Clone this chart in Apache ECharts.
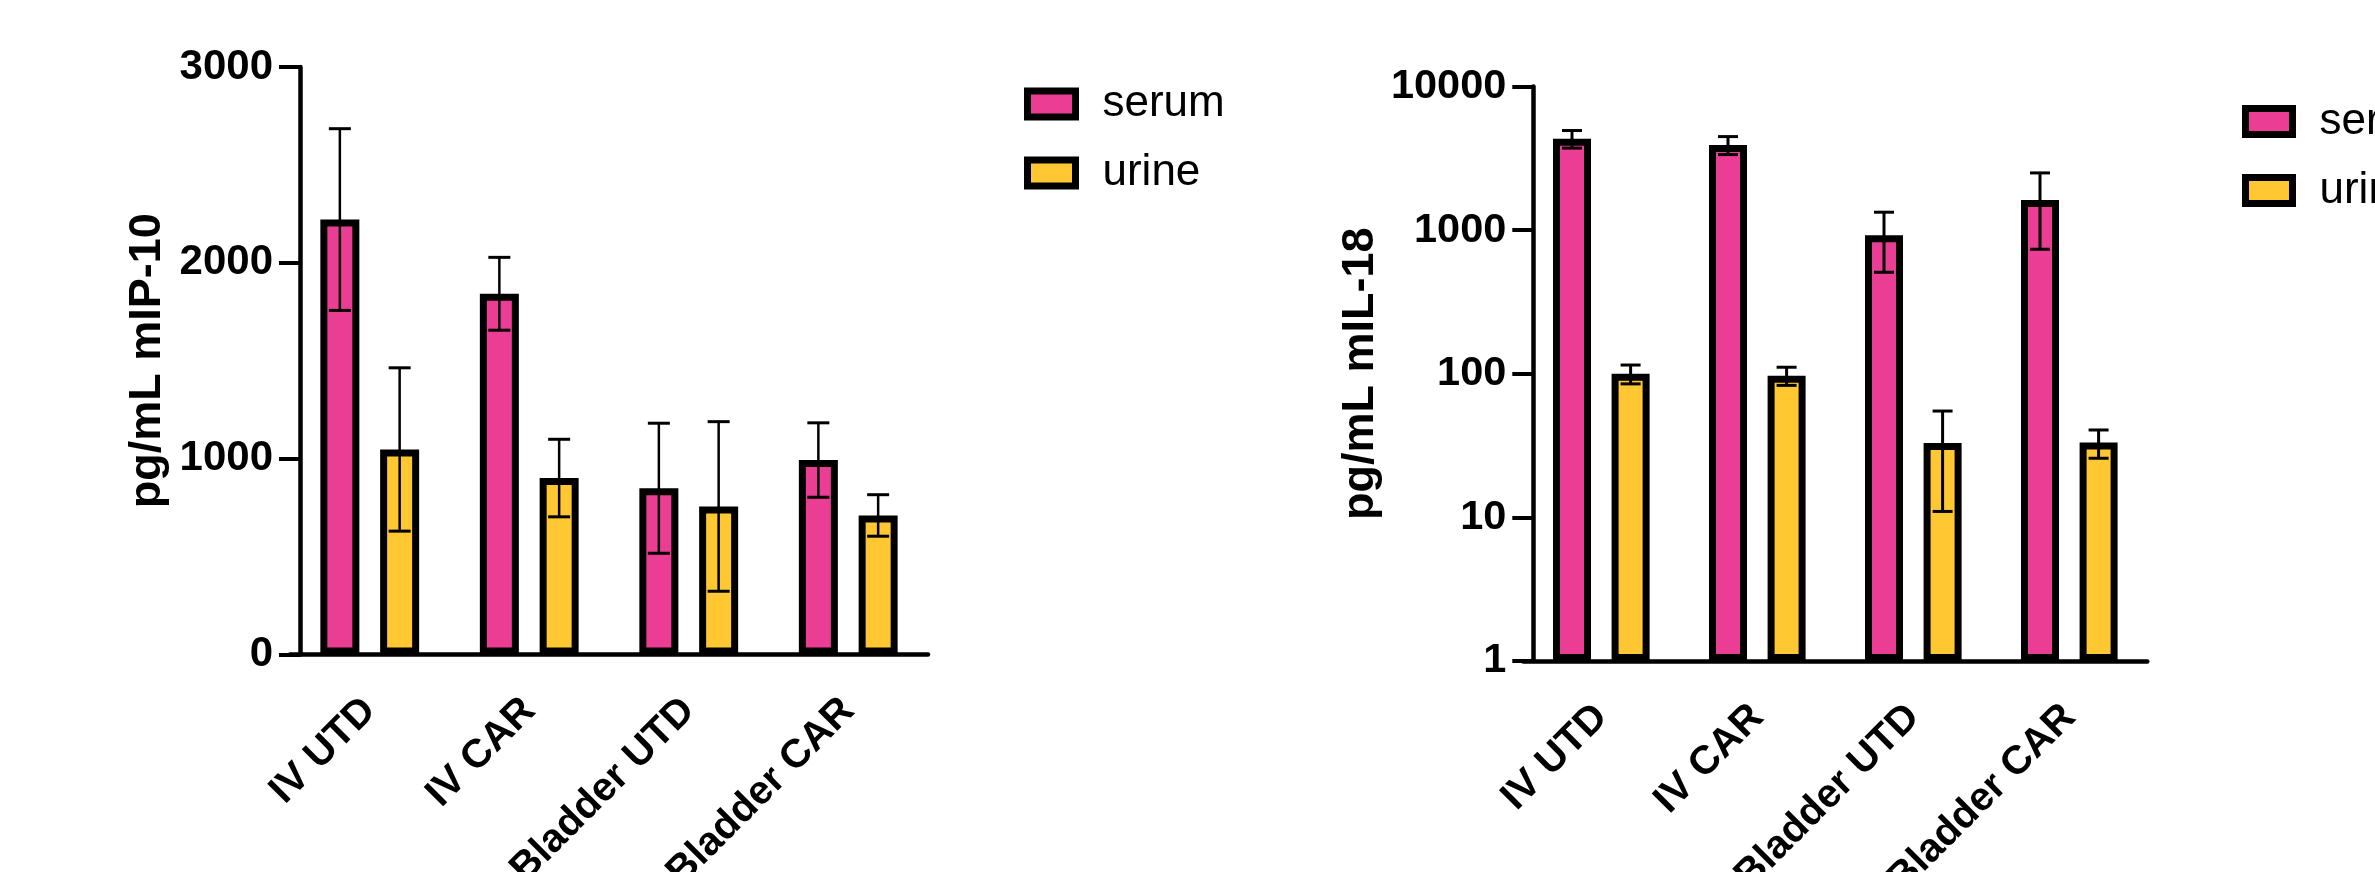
<!DOCTYPE html>
<html>
<head>
<meta charset="utf-8">
<script src="https://cdn.jsdelivr.net/npm/echarts@6/dist/echarts.min.js"></script>
<style>
html,body{margin:0;padding:0;background:#fff;}
#chart{width:2375px;height:872px;}
</style>
</head>
<body>
<div id="chart"></div>
<script>
const categories = ['IV UTD', 'IV CAR', 'Bladder UTD', 'Bladder CAR'];
const seriesNames = ['serum', 'urine'];
// Left panel: mIP-10 (pg/mL), mean and SD
const mip10Serum = [2221, 1842, 849, 993];
const mip10SerumSD = [464, 186, 332, 190];
const mip10Urine = [1047, 901, 756, 710];
const mip10UrineSD = [417, 198, 433, 106];
// Right panel: mIL-18 (pg/mL), mean and SD
const il18Serum = [4332, 3918, 921, 1619];
const il18SerumSD = [608, 561, 412, 883];
const il18Urine = [100, 97, 33, 33.2];
const il18UrineSD = [15, 14, 22, 7.4];
const mip10Ticks = [0, 1000, 2000, 3000];
const il18Ticks = [1, 10, 100, 1000, 10000];

const PINK = '#EC3D95';
const YELLOW = '#FFC833';
const FONT = 'Liberation Sans, Arial, sans-serif';

const BW1 = 39, GAP1 = 0.533;
const BW2 = 38, GAP2 = 0.542;

function errRender(sign, bw, gap, half, stemW) {
  return function (params, api) {
    const i = api.value(0), m = api.value(1), s = api.value(2);
    const off = sign * bw * (1 + gap) / 2;
    const top = api.coord([i, m + s]);
    const bot = api.coord([i, m - s]);
    const x = top[0] + off;
    const st = {stroke: '#000', lineWidth: 3};
    return {
      type: 'group',
      children: [
        {type: 'line', shape: {x1: x, y1: top[1], x2: x, y2: bot[1]}, style: {stroke: '#000', lineWidth: stemW}},
        {type: 'line', shape: {x1: x - half, y1: top[1], x2: x + half, y2: top[1]}, style: st},
        {type: 'line', shape: {x1: x - half, y1: bot[1], x2: x + half, y2: bot[1]}, style: st}
      ]
    };
  };
}

function toErr(means, sds) {
  return means.map((m, i) => [i, m, sds[i]]);
}

const plain = (v) => String(Math.round(v));

const catAxis = (gi) => ({
  type: 'category', gridIndex: gi, data: categories,
  axisLine: {lineStyle: {color: '#000', width: 4.5}},
  axisTick: {alignWithLabel: true, length: 21, lineStyle: {color: '#000', width: 3.5}},
  axisLabel: {rotate: 45, margin: 50, color: '#000', fontSize: 40, fontWeight: 'bold', fontFamily: FONT, interval: 0}
});

const legendBase = {
  data: seriesNames, orient: 'vertical', padding: 0,
  itemHeight: 26, itemGap: 25, icon: 'rect',
  itemStyle: {borderColor: '#000', borderWidth: 7},
  textStyle: {fontSize: 44, fontFamily: FONT, color: '#000', lineHeight: 44, padding: [0, 0, 0, 22]}
};

const chart = echarts.init(document.getElementById('chart'), null, {renderer: 'canvas'});
chart.setOption({
  animation: false,
  backgroundColor: '#fff',
  grid: [
    {left: 290, top: 67, width: 638, height: 587.5, containLabel: false, outerBoundsMode: 'none'},
    {left: 1523.3, top: 86.5, width: 624, height: 574.5, containLabel: false, outerBoundsMode: 'none'}
  ],
  legend: [
    Object.assign({}, legendBase, {left: 1024, top: 82, itemWidth: 48}),
    Object.assign({}, legendBase, {left: 2242, top: 99.5, itemWidth: 47})
  ],
  xAxis: [catAxis(0), catAxis(1)],
  yAxis: [
    {
      type: 'value', gridIndex: 0, min: mip10Ticks[0], max: mip10Ticks[mip10Ticks.length - 1], interval: 1000,
      offset: -10,
      axisLine: {show: true, lineStyle: {color: '#000', width: 4.5}},
      axisTick: {show: true, length: 21, lineStyle: {color: '#000', width: 4}},
      splitLine: {show: false},
      axisLabel: {margin: 27, color: '#000', fontSize: 42, fontWeight: 'bold', fontFamily: FONT, formatter: plain, padding: [7, 0, 0, 0]},
      name: 'pg/mL mIP-10', nameLocation: 'middle', nameGap: 130,
      nameTextStyle: {fontSize: 45, fontWeight: 'bold', color: '#000', fontFamily: FONT}
    },
    {
      type: 'log', logBase: 10, gridIndex: 1, min: il18Ticks[0], max: il18Ticks[il18Ticks.length - 1],
      offset: -10,
      axisLine: {show: true, lineStyle: {color: '#000', width: 4.5}},
      axisTick: {show: true, length: 21, lineStyle: {color: '#000', width: 4}},
      minorTick: {show: false},
      splitLine: {show: false},
      axisLabel: {margin: 27, color: '#000', fontSize: 41.5, fontWeight: 'bold', fontFamily: FONT, formatter: plain, padding: [7, 0, 0, 0]},
      name: 'pg/mL mIL-18', nameLocation: 'middle', nameGap: 150,
      nameTextStyle: {fontSize: 45, fontWeight: 'bold', color: '#000', fontFamily: FONT}
    }
  ],
  series: [
    {name: 'serum', type: 'bar', xAxisIndex: 0, yAxisIndex: 0, data: mip10Serum, barWidth: BW1, barGap: (GAP1 * 100) + '%',
      itemStyle: {color: PINK, borderColor: '#000', borderWidth: 7}},
    {name: 'urine', type: 'bar', xAxisIndex: 0, yAxisIndex: 0, data: mip10Urine, barWidth: BW1, barGap: (GAP1 * 100) + '%',
      itemStyle: {color: YELLOW, borderColor: '#000', borderWidth: 7}},
    {name: 'serum', type: 'bar', xAxisIndex: 1, yAxisIndex: 1, data: il18Serum, barWidth: BW2, barGap: (GAP2 * 100) + '%',
      itemStyle: {color: PINK, borderColor: '#000', borderWidth: 7}},
    {name: 'urine', type: 'bar', xAxisIndex: 1, yAxisIndex: 1, data: il18Urine, barWidth: BW2, barGap: (GAP2 * 100) + '%',
      itemStyle: {color: YELLOW, borderColor: '#000', borderWidth: 7}},
    {name: 'serum SD 1', type: 'custom', xAxisIndex: 0, yAxisIndex: 0, z: 5, data: toErr(mip10Serum, mip10SerumSD),
      encode: {x: 0, y: 1}, renderItem: errRender(-1, BW1, GAP1, 11, 2.5)},
    {name: 'urine SD 1', type: 'custom', xAxisIndex: 0, yAxisIndex: 0, z: 5, data: toErr(mip10Urine, mip10UrineSD),
      encode: {x: 0, y: 1}, renderItem: errRender(1, BW1, GAP1, 11, 2.5)},
    {name: 'serum SD 2', type: 'custom', xAxisIndex: 1, yAxisIndex: 1, z: 5, data: toErr(il18Serum, il18SerumSD),
      encode: {x: 0, y: 1}, renderItem: errRender(-1, BW2, GAP2, 10, 3)},
    {name: 'urine SD 2', type: 'custom', xAxisIndex: 1, yAxisIndex: 1, z: 5, data: toErr(il18Urine, il18UrineSD),
      encode: {x: 0, y: 1}, renderItem: errRender(1, BW2, GAP2, 10, 3)}
  ]
});
</script>
</body>
</html>
